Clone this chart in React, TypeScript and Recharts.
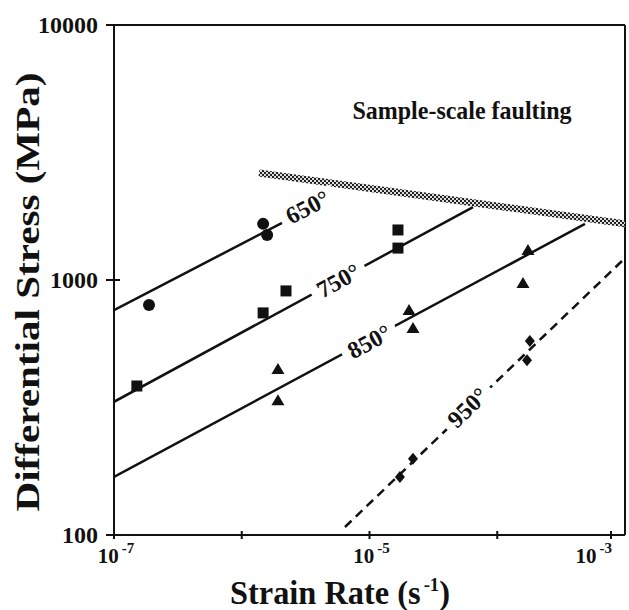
import { ScatterChart, Scatter, XAxis, YAxis, ReferenceLine } from 'recharts'

// measured points (strain rate s^-1, differential stress MPa)
const circles650 = [
	{ x: 1.88e-7, y: 798 },
	{ x: 1.47e-6, y: 1660 },
	{ x: 1.58e-6, y: 1500 },
]
const squares750 = [
	{ x: 1.51e-7, y: 384 },
	{ x: 1.47e-6, y: 743 },
	{ x: 2.22e-6, y: 906 },
	{ x: 1.67e-5, y: 1571 },
	{ x: 1.67e-5, y: 1334 },
]
const triangles850 = [
	{ x: 1.92e-6, y: 448 },
	{ x: 1.92e-6, y: 338 },
	{ x: 2.04e-5, y: 762 },
	{ x: 2.19e-5, y: 649 },
	{ x: 1.59e-4, y: 973 },
	{ x: 1.74e-4, y: 1312 },
]
const diamonds950 = [
	{ x: 1.73e-5, y: 169 },
	{ x: 2.19e-5, y: 199 },
	{ x: 1.8e-4, y: 577 },
	{ x: 1.71e-4, y: 485 },
]

// flow-law fits (end points)
const fit650 = [
	{ x: 1e-7, y: 762 },
	{ x: 2.26e-6, y: 1714 },
]
const fit750 = [
	{ x: 1e-7, y: 333 },
	{ x: 6.46e-5, y: 1932 },
]
const fit850 = [
	{ x: 1e-7, y: 169 },
	{ x: 4.86e-4, y: 1660 },
]
const fit950 = [
	{ x: 6.43e-6, y: 107.5 },
	{ x: 1e-3, y: 1219 },
]
const faultLimit = [
	{ x: 1.365e-6, y: 2630 },
	{ x: 1e-3, y: 1660 },
]

const tempLabels = [
	{ x: 3.25e-6, y: 1945, text: '650°', angle: -27.6 },
	{ x: 5.66e-6, y: 1000, text: '750°', angle: -28.5 },
	{ x: 9.9e-6, y: 577, text: '850°', angle: -28.2 },
	{ x: 5.8e-5, y: 318, text: '950°', angle: -43.8 },
]
const regionLabel = [{ x: 5.3e-5, y: 4600, text: 'Sample-scale faulting' }]

const xTicks = [1e-7, 1e-6, 1e-5, 1e-4, 1e-3]
const xTickLabels = [1e-7, 1e-5, 1e-3]
const yTicks = [100, 1000, 10000]

const FONT = '"Liberation Serif", "Times New Roman", serif'
const INK = '#111'

const Nothing = () => <g />

const Dot = (p: any) => <circle cx={p.cx} cy={p.cy} r={6} fill={INK} />
const Square = (p: any) => <rect x={p.cx - 5.5} y={p.cy - 5.5} width={11} height={11} fill={INK} />
const Triangle = (p: any) => (
	<polygon
		points={`${p.cx},${p.cy - 6} ${p.cx + 6.5},${p.cy + 5} ${p.cx - 6.5},${p.cy + 5}`}
		fill={INK}
	/>
)
const Diamond = (p: any) => (
	<polygon
		points={`${p.cx},${p.cy - 6} ${p.cx + 5},${p.cy} ${p.cx},${p.cy + 6} ${p.cx - 5},${p.cy}`}
		fill={INK}
	/>
)

const TempLabel = (p: any) => {
	const { text, angle } = p.payload
	return (
		<g transform={`translate(${p.cx},${p.cy}) rotate(${angle})`}>
			<rect x={-30} y={-9} width={60} height={18} fill="#fff" />
			<text
				x={0}
				y={1}
				textAnchor="middle"
				dominantBaseline="central"
				fontFamily={FONT}
				fontWeight="bold"
				fontSize={24}
				fill={INK}
			>
				{text}
			</text>
		</g>
	)
}

const RegionLabel = (p: any) => (
	<text
		x={p.cx}
		y={p.cy}
		textAnchor="middle"
		dominantBaseline="central"
		fontFamily={FONT}
		fontWeight="bold"
		fontSize={25}
		textLength={219}
		lengthAdjust="spacingAndGlyphs"
		fill={INK}
	>
		{p.payload.text}
	</text>
)

const XTick = ({ x, y, payload }: any) => {
	const v = payload.value
	const exp = Math.round(Math.log10(v))
	const show = xTickLabels.some((t) => Math.abs(Math.log10(t) - exp) < 0.01)
	const last = v >= 1e-3
	return (
		<g>
			<line x1={x} x2={x} y1={y - 4} y2={y + 4} stroke={INK} strokeWidth={2} />
			{show && (
				<text
					x={last ? x + 1 : x + 2}
					y={y + 28}
					textAnchor={last ? 'end' : 'middle'}
					fontFamily={FONT}
					fontWeight="bold"
					fontSize={21}
					fill={INK}
				>
					10
					<tspan dx={3} dy={-10} fontSize={15}>
						{`-${Math.abs(exp)}`}
					</tspan>
				</text>
			)}
		</g>
	)
}

const YTick = ({ x, y, payload }: any) => (
	<g>
		<line x1={x - 8} x2={x + 6} y1={y} y2={y} stroke={INK} strokeWidth={2} />
		<text
			x={x - 16}
			y={y}
			textAnchor="end"
			dominantBaseline="central"
			fontFamily={FONT}
			fontWeight="bold"
			fontSize={24}
			fill={INK}
		>
			{payload.value}
		</text>
	</g>
)

const XTitle = ({ viewBox }: any) => (
	<text
		x={340}
		y={viewBox.y + 69}
		textAnchor="middle"
		fontFamily={FONT}
		fontWeight="bold"
		fontSize={33}
		textLength={220}
		lengthAdjust="spacingAndGlyphs"
		fill={INK}
	>
		Strain Rate (s
		<tspan dx={3} dy={-13} fontSize={19}>
			-1
		</tspan>
		<tspan dy={13}>)</tspan>
	</text>
)

const YTitle = () => (
	<text
		x={28}
		y={292}
		transform="rotate(-90, 28, 292)"
		textAnchor="middle"
		dominantBaseline="central"
		fontFamily={FONT}
		fontWeight="bold"
		fontSize={33}
		textLength={439}
		lengthAdjust="spacingAndGlyphs"
		fill={INK}
	>
		Differential Stress (MPa)
	</text>
)

const fitLine = { stroke: INK, strokeWidth: 2.5 }

export default function App() {
	return (
		<div style={{ position: 'absolute', left: 0, top: 0, width: 629, height: 610, background: '#fff' }}>
			<ScatterChart width={629} height={610} margin={{ top: 25, right: 4, bottom: 0, left: 0 }}>
				<defs>
					<pattern id="hatch" width="4" height="4" patternUnits="userSpaceOnUse">
						<rect width="4" height="4" fill="#ddd" />
						<rect x="0" y="0" width="2" height="2" fill="#222" />
						<rect x="2" y="2" width="2" height="2" fill="#222" />
					</pattern>
				</defs>
				<XAxis
					type="number"
					dataKey="x"
					scale="log"
					domain={[1e-7, 1e-3]}
					allowDataOverflow
					ticks={xTicks}
					tick={<XTick />}
					tickLine={false}
					tickSize={0}
					tickMargin={0}
					height={75}
					axisLine={{ stroke: INK, strokeWidth: 2 }}
					label={<XTitle />}
				/>
				<YAxis
					type="number"
					dataKey="y"
					scale="log"
					domain={[100, 10000]}
					allowDataOverflow
					ticks={yTicks}
					tick={<YTick />}
					tickLine={false}
					tickSize={0}
					tickMargin={0}
					width={114}
					axisLine={{ stroke: INK, strokeWidth: 2 }}
					label={<YTitle />}
				/>
				<ReferenceLine y={10000} stroke={INK} strokeWidth={2} ifOverflow="visible" />
				<ReferenceLine x={1e-3} stroke={INK} strokeWidth={2} ifOverflow="visible" />

				<Scatter data={faultLimit} line={{ stroke: 'url(#hatch)', strokeWidth: 7 }} lineType="joint" shape={<Nothing />} isAnimationActive={false} />
				<Scatter data={fit650} line={fitLine} lineType="joint" shape={<Nothing />} isAnimationActive={false} />
				<Scatter data={fit750} line={fitLine} lineType="joint" shape={<Nothing />} isAnimationActive={false} />
				<Scatter data={fit850} line={fitLine} lineType="joint" shape={<Nothing />} isAnimationActive={false} />
				<Scatter
					data={fit950}
					line={{ ...fitLine, strokeDasharray: '9 6' }}
					lineType="joint"
					shape={<Nothing />}
					isAnimationActive={false}
				/>

				<Scatter data={tempLabels} shape={TempLabel} isAnimationActive={false} />
				<Scatter data={regionLabel} shape={RegionLabel} isAnimationActive={false} />

				<Scatter data={circles650} shape={Dot} isAnimationActive={false} />
				<Scatter data={squares750} shape={Square} isAnimationActive={false} />
				<Scatter data={triangles850} shape={Triangle} isAnimationActive={false} />
				<Scatter data={diamonds950} shape={Diamond} isAnimationActive={false} />
			</ScatterChart>
		</div>
	)
}
